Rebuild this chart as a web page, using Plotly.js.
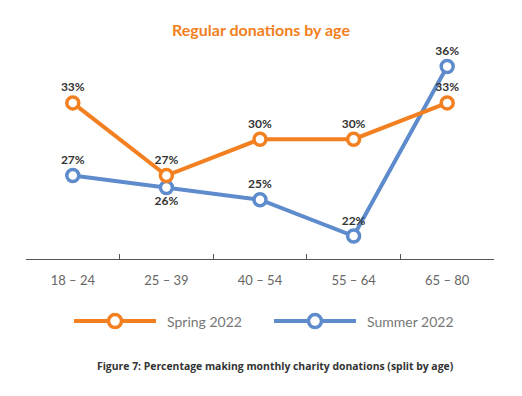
<!DOCTYPE html>
<html>
<head>
<meta charset="utf-8">
<script src="https://cdn.plot.ly/plotly-3.0.1.min.js"></script>
<style>html,body{margin:0;padding:0;background:#fff;}#chart{width:522px;height:396px;}</style>
</head>
<body>
<div id="chart"></div>
<script>
const categories = ['18 – 24', '25 – 39', '40 – 54', '55 – 64', '65 – 80'];
const springValues = [33, 27, 30, 30, 33];
const summerValues = [27, 26, 25, 22, 36];
const springName = 'Spring 2022';
const summerName = 'Summer 2022';
const springLabelPos = ['top center', 'top center', 'top center', 'top center', 'top center'];
const summerLabelPos = ['top center', 'bottom center', 'top center', 'top center', 'top center'];

const ORANGE = '#F28021';
const BLUE = '#5E8BCB';
const labelFont = {family: 'Lato, sans-serif', size: 12, color: '#333333', weight: 700};

function series(name, vals, color, pos) {
  return {
    type: 'scatter', mode: 'lines+markers+text', name: name,
    x: categories, y: vals,
    text: vals.map(v => v + '%'), textposition: pos, textfont: labelFont,
    line: {color: color, width: 4},
    marker: {symbol: 'circle', size: 12, color: '#ffffff', line: {color: color, width: 3.5}},
    cliponaxis: false, showlegend: false, hoverinfo: 'skip'
  };
}

const data = [
  series(summerName, summerValues, BLUE, summerLabelPos),
  series(springName, springValues, ORANGE, springLabelPos)
];

// manual legend geometry (paper coords)
const legY = -0.297;
const legItems = [
  {name: springName, color: ORANGE, x0: 0.1026, x1: 0.2778, xc: 0.1902, tx: 0.297},
  {name: summerName, color: BLUE, x0: 0.5299, x1: 0.7051, xc: 0.6175, tx: 0.7244}
];
const shapes = [];
const annotations = [];
legItems.forEach(it => {
  shapes.push({type: 'line', xref: 'paper', yref: 'paper', x0: it.x0, x1: it.x1, y0: legY, y1: legY,
    line: {color: it.color, width: 4}});
  shapes.push({type: 'circle', xref: 'paper', yref: 'paper', xsizemode: 'pixel', ysizemode: 'pixel',
    xanchor: it.xc, yanchor: legY, x0: -6.5, x1: 6.5, y0: -6.5, y1: 6.5,
    fillcolor: '#ffffff', line: {color: it.color, width: 3.5}});
  annotations.push({xref: 'paper', yref: 'paper', x: it.tx, y: legY, xanchor: 'left', yanchor: 'middle',
    text: it.name, showarrow: false, font: {family: 'Lato, sans-serif', size: 14, color: '#777777'}});
});
annotations.push({xref: 'paper', yref: 'paper', x: 0.534, y: -0.512, xanchor: 'center', yanchor: 'middle',
  text: 'Figure 7: Percentage making monthly charity donations (split by age)', showarrow: false,
  font: {family: '"Open Sans", sans-serif', size: 10.4, color: '#333333', weight: 700}});

const layout = {
  width: 522, height: 396,
  margin: {l: 26, r: 28, t: 50, b: 137},
  paper_bgcolor: '#ffffff', plot_bgcolor: '#ffffff',
  title: {text: 'Regular donations by age', x: 0.5, xanchor: 'center', y: 0.922, yanchor: 'middle',
    font: {family: 'Lato, sans-serif', size: 16, color: ORANGE, weight: 700}},
  xaxis: {
    type: 'category', range: [-0.5, 4.5], showgrid: false, zeroline: false,
    showline: true, linecolor: '#555555', linewidth: 1,
    ticks: 'inside', tickson: 'boundaries', ticklen: 5, tickcolor: '#555555', tickwidth: 1,
    tickfont: {family: 'Lato, sans-serif', size: 13, color: '#666666'},
    ticklabelstandoff: 9, fixedrange: true
  },
  yaxis: {range: [20.1, 37.37], visible: false, showgrid: false, zeroline: false, fixedrange: true},
  showlegend: false,
  shapes: shapes,
  annotations: annotations
};

Plotly.newPlot('chart', data, layout, {displayModeBar: false, staticPlot: true});
</script>
</body>
</html>
